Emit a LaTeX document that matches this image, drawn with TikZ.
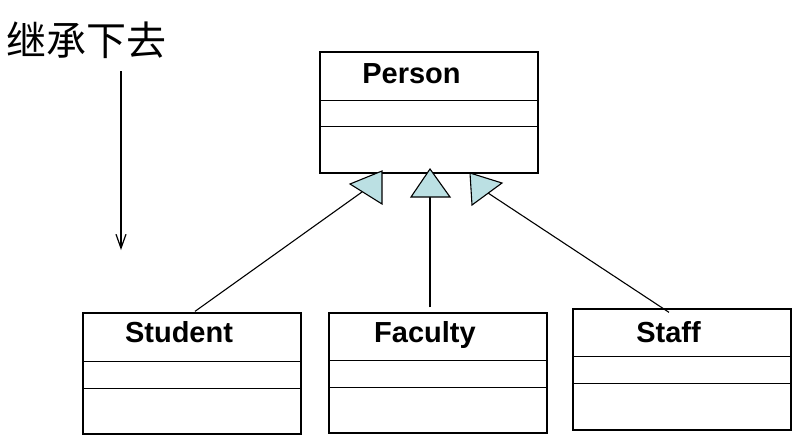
\documentclass[tikz,border=0pt]{standalone}
\usepackage{fontspec}
\setmainfont{Liberation Sans}
\newfontfamily\cjk{Noto Sans CJK SC}
\usetikzlibrary{calc, arrows.meta}
\definecolor{tribg}{RGB}{187,224,227}

\begin{document}
\begin{tikzpicture}[x=1pt, y=-1pt,
	classbox/.style={draw, line width=1.3pt, rectangle, inner sep=0pt, minimum width=218pt},
	classname/.style={anchor=base, inner sep=0pt, font=\fontsize{29}{34}\selectfont\bfseries},
	divider/.style={line width=1.3pt},
	genline/.style={line width=1.1pt},
	inherit/.style={draw, line width=1.1pt, fill=tribg, line join=miter}]
	\useasboundingbox (0,0) rectangle (805,445);

	% title and flow arrow
	\node[inner sep=0pt, font=\cjk\fontsize{40}{44}\selectfont] (title) at (86.5,40) {继承下去};
	\coordinate (flowtop) at (121,71);
	\coordinate (flowend) at (121,250);
	\draw[-{Straight Barb[length=14pt,width=10pt]}, line width=1.2pt] (flowtop) -- (flowend);

	% classes
	\node[classbox, minimum height=121pt] (person)  at (429,112.5) {};
	\node[classbox, minimum height=121pt] (student) at (192,373.5) {};
	\node[classbox, minimum height=120pt] (faculty) at (438,373) {};
	\node[classbox, minimum height=121pt] (staff)   at (682,369.5) {};

	\node[classname] (personname)  at (411.5,83) {Person};
	\node[classname] (studentname) at (179,342)  {Student};
	\node[classname] (facultyname) at (425,342)  {Faculty};
	\node[classname] (staffname)   at (668.5,342) {Staff};

	\draw[divider] ($(person.north west)+(0,49)$)  -- ($(person.north east)+(0,49)$);
	\draw[divider] ($(person.north west)+(0,75)$)  -- ($(person.north east)+(0,75)$);
	\draw[divider] ($(student.north west)+(0,49)$) -- ($(student.north east)+(0,49)$);
	\draw[divider] ($(student.north west)+(0,76)$) -- ($(student.north east)+(0,76)$);
	\draw[divider] ($(faculty.north west)+(0,48)$) -- ($(faculty.north east)+(0,48)$);
	\draw[divider] ($(faculty.north west)+(0,75)$) -- ($(faculty.north east)+(0,75)$);
	\draw[divider] ($(staff.north west)+(0,48)$)   -- ($(staff.north east)+(0,48)$);
	\draw[divider] ($(staff.north west)+(0,75)$)   -- ($(staff.north east)+(0,75)$);

	% generalization
	\coordinate (stuhead) at (362,192);
	\coordinate (fachead) at (430,197);
	\coordinate (stfhead) at (488,193);
	\draw[genline] ($(student.north)+(3,-1)$) -- (stuhead);
	\draw[genline] ($(faculty.north)+(-8,-5)$) -- (fachead);
	\draw[genline] ($(staff.north)+(-13,4)$) -- (stfhead);

	\draw[inherit] (350,184) -- (382,171) -- (382,204) -- cycle;
	\draw[inherit] (430,169) -- (450,197) -- (411,197) -- cycle;
	\draw[inherit] (470,173) -- (502,183) -- (472,205) -- cycle;
\end{tikzpicture}
\end{document}
